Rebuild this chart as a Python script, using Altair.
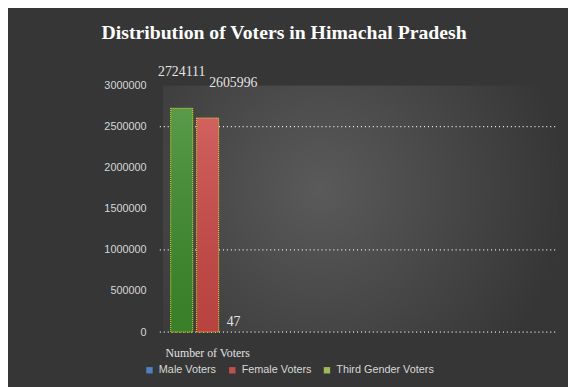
import altair as alt
import pandas as pd

category = "Number of Voters"
series = ["Male Voters", "Female Voters", "Third Gender Voters"]
values = [2724111, 2605996, 47]
y_ticks = [0, 500000, 1000000, 1500000, 2000000, 2500000, 3000000]
grid_ticks = [0, 1000000, 2500000]

legend_colors = ["#4f81bd", "#c0504d", "#9bbb59"]

df = pd.DataFrame({"category": [category] * 3, "series": series, "value": values})
grid_df = pd.DataFrame({"tick": grid_ticks})

x_enc = alt.X("category:N", title=None,
              scale=alt.Scale(range=[8, 83], paddingInner=0, paddingOuter=0),
              axis=alt.Axis(labelAngle=0, domain=False, ticks=False, labelPadding=16,
                            labelFont="Liberation Serif", labelFontSize=12,
                            labelColor="#e2e2e2"))
xo_enc = alt.XOffset("series:N", sort=series, scale=alt.Scale(paddingInner=0.15, paddingOuter=0))
y_enc = alt.Y("value:Q", title=None,
              scale=alt.Scale(domain=[0, 3000000], nice=False),
              axis=alt.Axis(values=y_ticks,
                            format="d", domain=False, ticks=False, labelPadding=17,
                            labelFont="Liberation Sans", labelFontSize=11,
                            labelColor="#d6d6d6", grid=False))

bg = alt.Chart(pd.DataFrame({"k": [0]})).mark_rect(
    color={"gradient": "radial", "x1": 0.4, "y1": 0.45, "r1": 0, "x2": 0.4, "y2": 0.45, "r2": 0.62,
           "stops": [{"offset": 0, "color": "#5a5a5a"}, {"offset": 1, "color": "#363636"}]}
).encode(x=alt.value(0), x2=alt.value("width"), y=alt.value(0), y2=alt.value("height"))

grid = alt.Chart(grid_df).mark_rule(color="#f2f2f2", strokeDash=[1, 3], strokeWidth=1.2).encode(
    y=alt.Y("tick:Q"), x=alt.value(-3), x2=alt.value("width")
)

base = alt.Chart(df).encode(x=x_enc, xOffset=xo_enc, y=y_enc)

bars = base.mark_bar().encode(
    color=alt.condition(alt.datum.series == "Female Voters",
                        alt.value("#c94846"), alt.value("#3d8a2c"))
)

overlay = base.transform_filter(alt.datum.value > 1000).mark_bar(
    color={"gradient": "linear", "x1": 0, "y1": 0, "x2": 0, "y2": 1,
           "stops": [{"offset": 0, "color": "rgba(255,255,255,0.14)"},
                     {"offset": 1, "color": "rgba(0,0,0,0.08)"}]},
    stroke="#e6e62a", strokeWidth=1, strokeDash=[1, 1]
)

legend_layer = base.mark_square(opacity=0).encode(
    color=alt.Color("series:N", scale=alt.Scale(domain=series, range=legend_colors),
                    legend=alt.Legend(title=None, orient="none", direction="horizontal",
                                      legendX=-19, legendY=283, symbolType="square",
                                      symbolSize=42, symbolOpacity=1, symbolStrokeWidth=0,
                                      labelFont="Liberation Sans", labelFontSize=11,
                                      labelColor="#d8d8d8", columnPadding=10,
                                      labelOffset=4))
)

def label(name, dx, dy):
    return base.transform_filter(alt.datum.series == name).mark_text(
        dx=dx, dy=dy, font="Liberation Serif", fontSize=14, color="#e4e4e4",
        baseline="middle"
    ).encode(text=alt.Text("value:Q", format="d"))

chart = alt.layer(
    bg, grid, bars, overlay, legend_layer,
    label("Male Voters", 0, -37),
    label("Female Voters", 26, -35),
    label("Third Gender Voters", 0, -10),
).properties(
    width=400, height=250,
    autosize=alt.AutoSizeParams(type="none"),
    padding={"left": 157, "top": 76, "right": 11, "bottom": 53},
    title=alt.TitleParams("Distribution of Voters in Himachal Pradesh",
                          font="Liberation Serif", fontSize=20, fontWeight="bold",
                          color="#ffffff", anchor="middle", dx=-77, offset=22),
).configure(background="#363636").configure_view(stroke=None)

chart.save("out.html", embed_options={"renderer": "svg", "actions": False})
